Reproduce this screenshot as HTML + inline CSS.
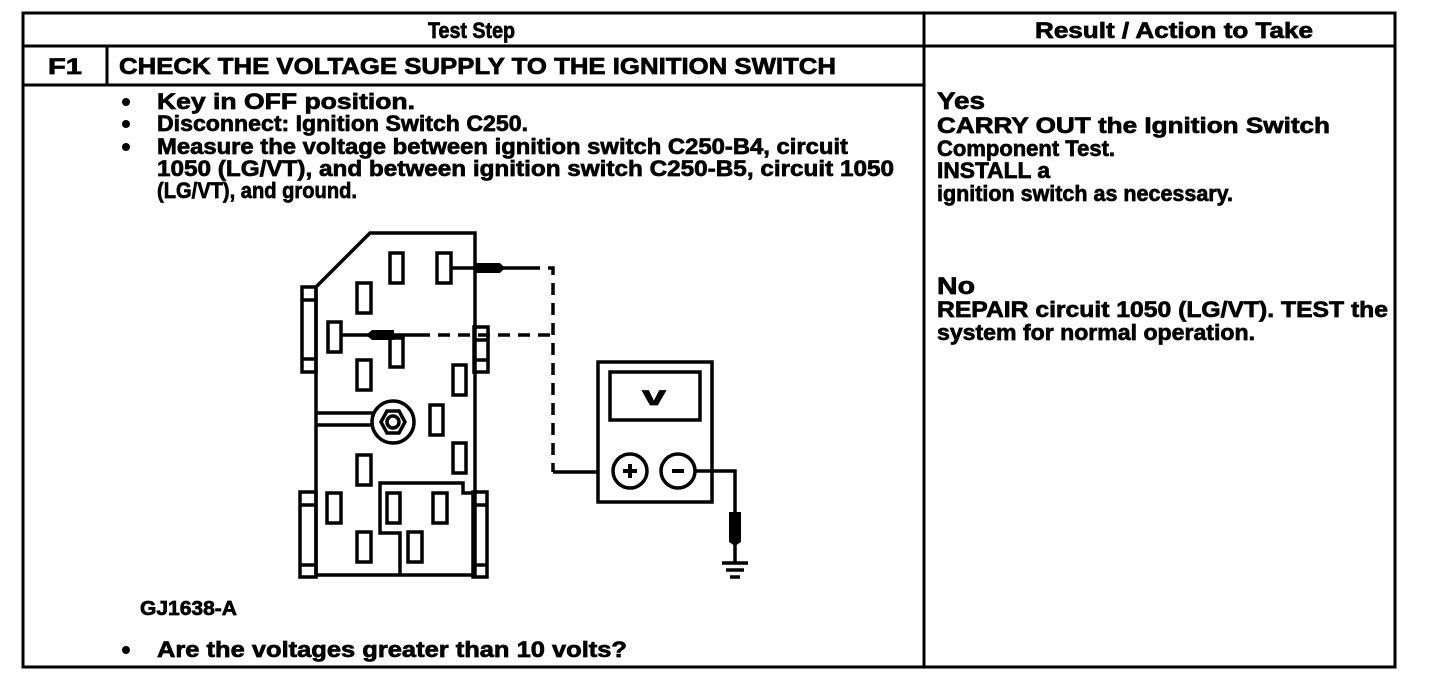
<!DOCTYPE html>
<html><head><meta charset="utf-8"><style>
html,body{margin:0;padding:0;background:#fff;}
svg{display:block;}
text{font-family:"Liberation Sans",Arial,sans-serif;font-weight:bold;fill:#000;stroke:#000;stroke-width:0.7;}
</style></head><body>
<svg width="1456" height="696" viewBox="0 0 1456 696" xmlns="http://www.w3.org/2000/svg">
<g stroke="#000" stroke-width="3" fill="none">
<rect x="23" y="13" width="1372" height="654"/>
<line x1="23" y1="46" x2="1395" y2="46"/>
<line x1="23" y1="85" x2="924" y2="85"/>
<line x1="107" y1="46" x2="107" y2="85"/>
<line x1="924" y1="13" x2="924" y2="667"/>
</g>
<g font-size="22">
<text x="428" y="38" textLength="87" lengthAdjust="spacingAndGlyphs">Test Step</text>
<text x="1035" y="38" textLength="278" lengthAdjust="spacingAndGlyphs">Result / Action to Take</text>
<text x="48" y="74" textLength="34" lengthAdjust="spacingAndGlyphs">F1</text>
<text x="119" y="74" font-size="23" textLength="717" lengthAdjust="spacingAndGlyphs">CHECK THE VOLTAGE SUPPLY TO THE IGNITION SWITCH</text>
<g stroke="none" fill="#000">
<circle cx="126" cy="102" r="4"/><circle cx="126" cy="124" r="4"/><circle cx="126" cy="147" r="4"/><circle cx="126" cy="650" r="4"/>
</g>
<text x="157" y="109" textLength="258" lengthAdjust="spacingAndGlyphs">Key in OFF position.</text>
<text x="157" y="131" textLength="371" lengthAdjust="spacingAndGlyphs">Disconnect: Ignition Switch C250.</text>
<text x="157" y="154" textLength="691" lengthAdjust="spacingAndGlyphs">Measure the voltage between ignition switch C250-B4, circuit</text>
<text x="157" y="176" textLength="737" lengthAdjust="spacingAndGlyphs">1050 (LG/VT), and between ignition switch C250-B5, circuit 1050</text>
<text x="157" y="198" textLength="200" lengthAdjust="spacingAndGlyphs">(LG/VT), and ground.</text>
<text x="140" y="615" font-size="20" textLength="97" lengthAdjust="spacingAndGlyphs">GJ1638-A</text>
<text x="157" y="657" textLength="470" lengthAdjust="spacingAndGlyphs">Are the voltages greater than 10 volts?</text>
<text x="937" y="109" font-size="24" textLength="48" lengthAdjust="spacingAndGlyphs">Yes</text>
<text x="937" y="133" textLength="393" lengthAdjust="spacingAndGlyphs">CARRY OUT the Ignition Switch</text>
<text x="937" y="156" textLength="178" lengthAdjust="spacingAndGlyphs">Component Test.</text>
<text x="937" y="178" textLength="113" lengthAdjust="spacingAndGlyphs">INSTALL a</text>
<text x="937" y="201" textLength="296" lengthAdjust="spacingAndGlyphs">ignition switch as necessary.</text>
<text x="937" y="294" font-size="24" textLength="38" lengthAdjust="spacingAndGlyphs">No</text>
<text x="937" y="317" textLength="451" lengthAdjust="spacingAndGlyphs">REPAIR circuit 1050 (LG/VT). TEST the</text>
<text x="937" y="340" textLength="318" lengthAdjust="spacingAndGlyphs">system for normal operation.</text>
</g>
<g stroke="#000" stroke-width="3.5" fill="none">
<path d="M316 287 L370 233 L475 233 L475 575 L316 575 Z"/>
<rect x="302" y="287" width="14" height="85"/>
<line x1="302" y1="300" x2="316" y2="300"/><line x1="302" y1="359" x2="316" y2="359"/>
<rect x="300" y="492" width="16" height="85"/>
<line x1="300" y1="505" x2="316" y2="505"/><line x1="300" y1="565" x2="316" y2="565"/>
<rect x="474" y="327" width="14" height="45"/>
<line x1="474" y1="340" x2="488" y2="340"/><line x1="474" y1="360" x2="488" y2="360"/>
<rect x="473" y="492" width="14" height="85"/>
<line x1="473" y1="505" x2="487" y2="505"/><line x1="473" y1="565" x2="487" y2="565"/>
<rect x="390" y="253" width="13" height="30"/>
<rect x="437" y="253" width="14" height="30"/>
<rect x="357" y="283" width="14" height="30"/>
<rect x="328" y="322" width="13" height="30"/>
<rect x="390" y="338" width="13" height="29"/>
<rect x="357" y="360" width="14" height="30"/>
<rect x="453" y="365" width="13" height="30"/>
<rect x="430" y="405" width="13" height="30"/>
<rect x="357" y="455" width="14" height="30"/>
<rect x="453" y="443" width="13" height="30"/>
<rect x="327" y="493" width="14" height="30"/>
<rect x="387" y="493" width="13" height="30"/>
<rect x="433" y="493" width="14" height="30"/>
<rect x="357" y="532" width="14" height="30"/>
<rect x="408" y="532" width="14" height="30"/>
<path d="M316 413 L374 413 M316 425 L374 425"/>
<circle cx="393" cy="422" r="21"/>
<polygon points="381,422 387,411 399,411 405,422 399,433 387,433"/>
<circle cx="393" cy="422" r="6"/>
<path d="M475 493 L463 493 L463 483 L380 483 L380 533 L400 533 L400 575"/>
<path d="M452 268 L528 268"/>
<path d="M342 335 L418 335"/>
<path d="M528 268 L553 268 L553 472" stroke-dasharray="12,8"/>
<path d="M418 335 L553 335" stroke-dasharray="12,8"/>
<path d="M553 472 L598 472"/>
<rect x="598" y="362" width="114" height="140"/>
<rect x="610" y="372" width="90" height="48"/>
<circle cx="630" cy="471" r="17"/>
<circle cx="678" cy="471" r="17"/>
<path d="M623 471 L637 471 M630 464 L630 478 M672 471 L684 471" stroke-width="4"/>
<path d="M695 471 L735 471 L735 562"/>
<path d="M722 563 L748 563 M726 570 L744 570 M730 577 L740 577"/>
</g>
<g fill="#000">
<path d="M475 263 L500 263 L505 268 L500 273 L475 273 Z"/>
<path d="M366 335 L372 330 L394 330 L394 340 L372 340 Z"/>
<path d="M729 512 L741 512 L741 542 L735 546 L729 542 Z"/>
</g>
<text x="642" y="405" font-size="28" font-family="Liberation Serif,serif" textLength="24" lengthAdjust="spacingAndGlyphs">v</text>
</svg>
</body></html>
